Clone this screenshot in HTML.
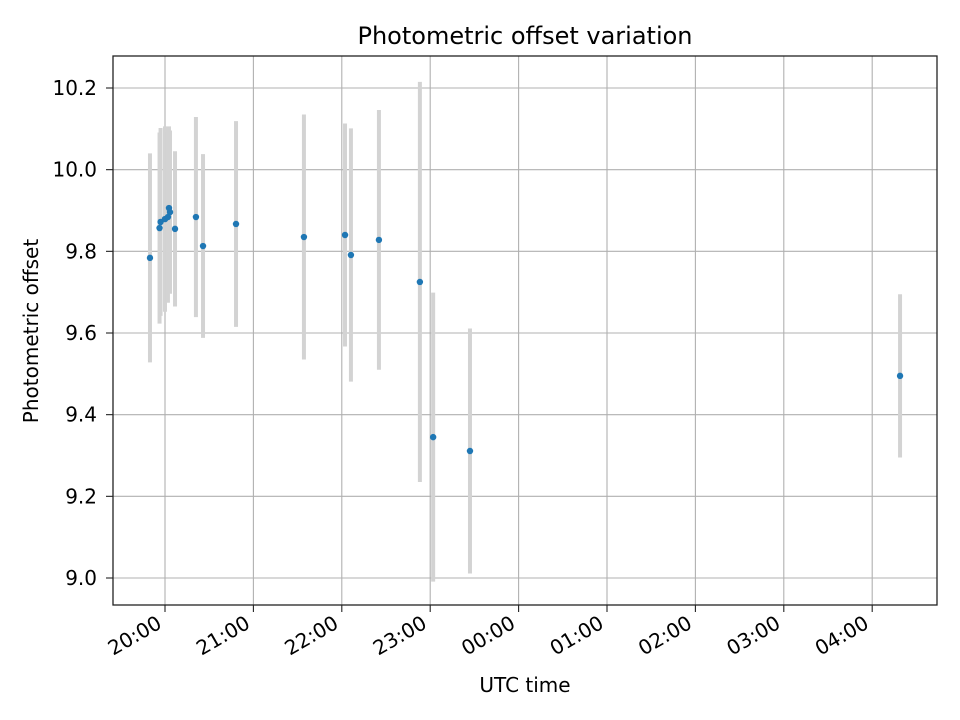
<!DOCTYPE html>
<html><head><meta charset="utf-8"><style>
body{margin:0;background:#fff}
svg{display:block;font-family:"DejaVu Sans","Liberation Sans",sans-serif}
</style></head><body>
<svg id="chart" width="960" height="720" viewBox="0 0 960 720">
<rect width="960" height="720" fill="#fff"/>
<g id="grid"></g>
<g id="errs"></g>
<g id="pts"></g>
<rect x="113" y="56" width="824" height="549" fill="none" stroke="#222" stroke-width="1.3"/>
<g id="xt"></g>
<g id="yt"></g>
<text x="525" y="44" text-anchor="middle" font-size="24" fill="#000">Photometric offset variation</text>
<text x="525" y="692" text-anchor="middle" font-size="20" fill="#000">UTC time</text>
<text transform="translate(38,331) rotate(-90)" text-anchor="middle" font-size="20" fill="#000">Photometric offset</text>
</svg>
<script>
// minutes after 20:00 UTC
const times = [-10.2,-3.7,-3,0,2,2.7,3.4,6.8,21,25.8,48.2,94.3,122.2,126.2,145.2,173,182,207,498.9];
const offsets = [9.784,9.857,9.872,9.879,9.884,9.906,9.896,9.855,9.884,9.813,9.867,9.835,9.84,9.791,9.828,9.725,9.345,9.311,9.495];
const errors = [0.256,0.234,0.23,0.227,0.21,0.2,0.2,0.19,0.245,0.225,0.252,0.3,0.273,0.31,0.318,0.49,0.354,0.3,0.2];
const xTickLabels = ["20:00","21:00","22:00","23:00","00:00","01:00","02:00","03:00","04:00"];
const yTickVals = [9.0,9.2,9.4,9.6,9.8,10.0,10.2];

const NS="http://www.w3.org/2000/svg";
const X0=113,X1=937,Y0=56,Y1=605;
function xs(m){return 165+m*(88.4/60);}
function ys(v){return 578-(v-9.0)*(490/1.2);}
function mk(tag,attrs,parent){const e=document.createElementNS(NS,tag);for(const k in attrs)e.setAttribute(k,attrs[k]);parent.appendChild(e);return e;}
const grid=document.getElementById('grid'),xt=document.getElementById('xt'),yt=document.getElementById('yt');
xTickLabels.forEach((lab,i)=>{
  const x=xs(i*60);
  const g=mk('line',{x1:x,x2:x,y1:Y0,y2:Y1,stroke:'#b0b0b0','stroke-width':1.1},grid);
  
  
  const t=mk('line',{x1:x,x2:x,y1:Y1,y2:Y1+7,stroke:'#222','stroke-width':1.1},xt);
  
  
  const tx=mk('text',{transform:`translate(${x-2},${Y1+22}) rotate(-30)`,'text-anchor':'end','font-size':20,fill:'#000'},xt);
  tx.textContent=lab;
  
  
});
yTickVals.forEach(v=>{
  const y=ys(v);
  const g=mk('line',{x1:X0,x2:X1,y1:y,y2:y,stroke:'#b0b0b0','stroke-width':1.1},grid);
  
  
  const t=mk('line',{x1:X0-7,x2:X0,y1:y,y2:y,stroke:'#222','stroke-width':1.1},yt);
  
  
  const tx=mk('text',{x:X0-16,y:y+7,'text-anchor':'end','font-size':20,fill:'#000'},yt);
  tx.textContent=v.toFixed(1);
  
  
});
const errs=document.getElementById('errs'),pts=document.getElementById('pts');
times.forEach((m,i)=>{
  const x=xs(m);
  const e=mk('line',{x1:x,x2:x,y1:ys(offsets[i]+errors[i]),y2:ys(offsets[i]-errors[i]),stroke:'#d3d3d3','stroke-width':4},errs);
  
  
});
times.forEach((m,i)=>{
  const c=mk('circle',{cx:xs(m),cy:ys(offsets[i]),r:3.2,fill:'#1f77b4'},pts);
  
  
});
</script>
</body></html>
